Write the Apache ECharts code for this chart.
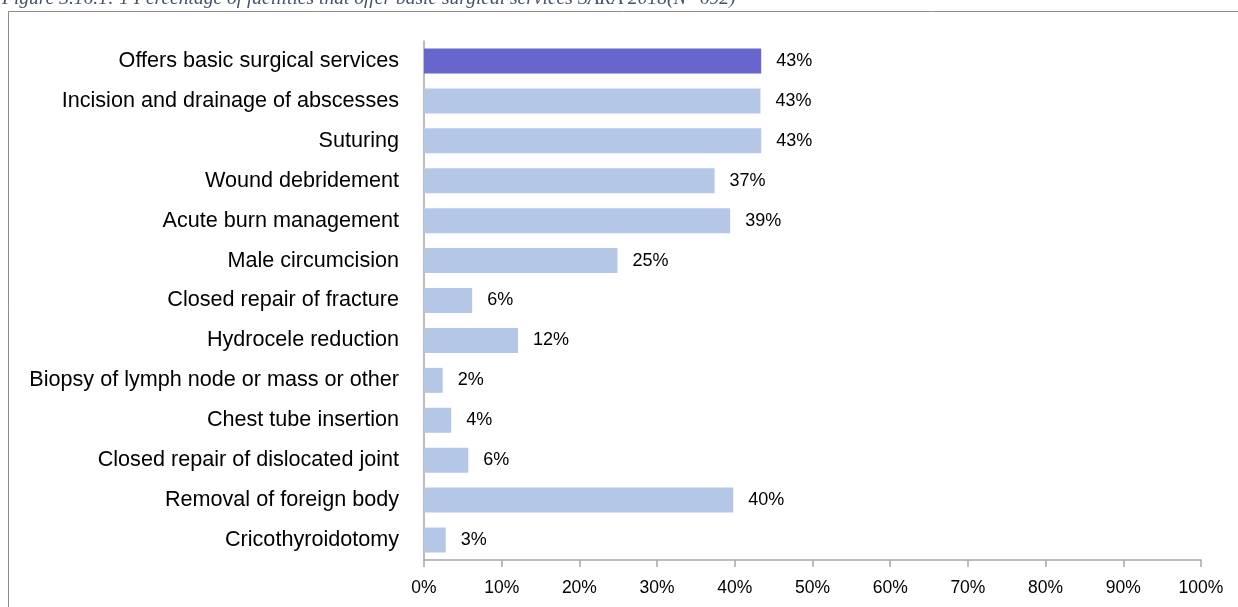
<!DOCTYPE html>
<html>
<head>
<meta charset="utf-8">
<script src="https://cdn.jsdelivr.net/npm/echarts@6/dist/echarts.min.js"></script>
<style>
  html, body { margin: 0; padding: 0; background: #fff; }
  #chart { width: 1238px; height: 607px; }
</style>
</head>
<body>
<div id="chart"></div>
<script>
// services, top to bottom
const categories = [
  'Offers basic surgical services',
  'Incision and drainage of abscesses',
  'Suturing',
  'Wound debridement',
  'Acute burn management',
  'Male circumcision',
  'Closed repair of fracture',
  'Hydrocele reduction',
  'Biopsy of lymph node or mass or other',
  'Chest tube insertion',
  'Closed repair of dislocated joint',
  'Removal of foreign body',
  'Cricothyroidotomy'
]
// percent of facilities
const values = [43.4, 43.3, 43.4, 37.4, 39.4, 24.9, 6.2, 12.1, 2.4, 3.5, 5.7, 39.8, 2.8]
const tickValues = [0, 10, 20, 30, 40, 50, 60, 70, 80, 90, 100]
const caption = 'Figure 3.16.1: 1 Percentage of facilities that offer basic surgical services SARA 2018(N=692)'

const chart = echarts.init(document.getElementById('chart'), null, {renderer: 'canvas'})
const font = "'Liberation Sans', Arial, sans-serif"

const option = {
  animation: false,
  graphic: [
    {
      type: 'text',
      left: 2,
      top: -11,
      style: {
        text: caption,
        font: "italic 19.5px 'Liberation Serif', serif",
        fill: '#44546a'
      }
    },
    {
      type: 'rect',
      shape: {x: 8.5, y: 11.5, width: 1300, height: 700},
      style: {fill: 'none', stroke: '#8c8c8c', lineWidth: 1}
    }
  ],
  grid: {
    left: 424,
    right: 37,
    top: 41,
    bottom: 47
  },
  xAxis: {
    type: 'value',
    min: tickValues[0],
    max: tickValues[tickValues.length - 1],
    interval: 10,
    axisLine: {show: true, lineStyle: {color: '#a6a6a6', width: 1.5}},
    axisTick: {show: true, length: 7, lineStyle: {color: '#a6a6a6', width: 1.5}},
    splitLine: {show: false},
    axisLabel: {
      formatter: '{value}%',
      fontFamily: font,
      fontSize: 17.5,
      color: '#000',
      margin: 19
    }
  },
  yAxis: {
    type: 'category',
    inverse: true,
    data: categories,
    axisLine: {show: true, lineStyle: {color: '#a6a6a6', width: 1.5}},
    axisTick: {show: false},
    axisLabel: {
      fontFamily: font,
      fontSize: 21.6,
      color: '#000',
      margin: 25
    }
  },
  series: [{
    type: 'bar',
    barWidth: 25,
    data: values.map((v, i) => ({
      value: v,
      itemStyle: {color: i === 0 ? '#6666cc' : '#b4c7e7'}
    })),
    label: {
      show: true,
      position: 'right',
      distance: 15,
      fontFamily: font,
      fontSize: 18,
      color: '#000',
      formatter: p => Math.round(p.value) + '%'
    }
  }]
}
chart.setOption(option)
</script>
</body>
</html>
